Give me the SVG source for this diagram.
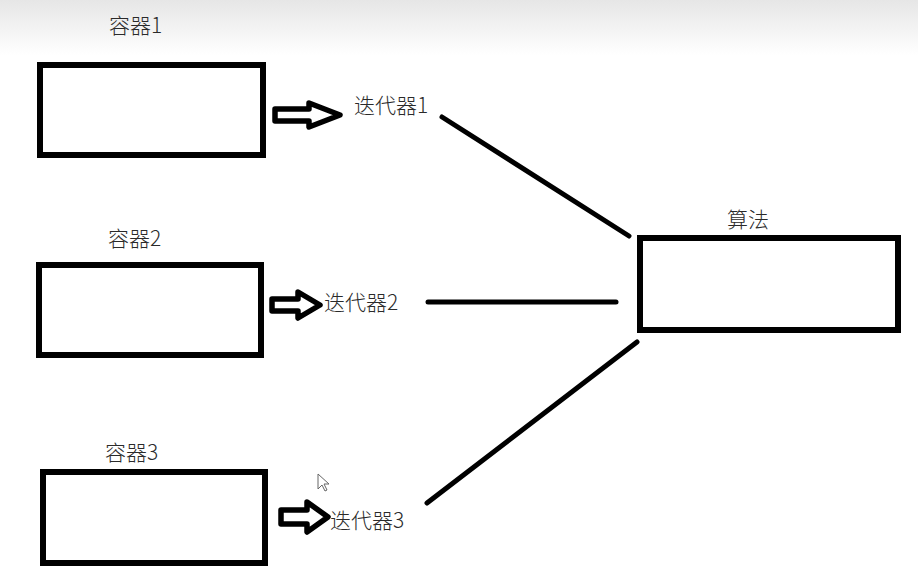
<svg xmlns="http://www.w3.org/2000/svg" width="918" height="584" viewBox="0 0 918 584">
<defs>
<linearGradient id="bg" x1="0" y1="0" x2="0" y2="1">
<stop offset="0" stop-color="#e6e6e6"/>
<stop offset="1" stop-color="#ffffff"/>
</linearGradient>
<style>
.box{fill:#fff;stroke:#000;stroke-width:6}
.lbl{font-family:"Microsoft YaHei","Noto Sans CJK SC",sans-serif;font-size:21px;font-weight:300;fill:#2a2a2a}
.arr{fill:#fff;stroke:#000;stroke-width:5.5;stroke-linejoin:round}
.conn{stroke:#000;stroke-width:5;stroke-linecap:round;fill:none}
</style>
</defs>
<rect x="0" y="0" width="918" height="584" fill="#fff"/>
<rect x="0" y="0" width="918" height="55" fill="url(#bg)"/>

<g id="container1">
<rect class="box" x="40" y="65" width="223" height="90"/>
<text class="lbl" x="109" y="33">容器1</text>
</g>
<g id="container2">
<rect class="box" x="39" y="265" width="222" height="90"/>
<text class="lbl" x="108" y="246">容器2</text>
</g>
<g id="container3">
<rect class="box" x="43" y="472" width="222" height="91"/>
<text class="lbl" x="105" y="460">容器3</text>
</g>
<g id="iter1">
<path class="arr" d="M275 109 H309 V103 L340 115 L309 127 V121 H275 Z"/>
<text class="lbl" x="354" y="113">迭代器1</text>
</g>
<g id="iter2">
<path class="arr" d="M272 299 H298 V292 L320 305 L298 318 V311 H272 Z"/>
<text class="lbl" x="324" y="310">迭代器2</text>
</g>
<g id="iter3">
<path class="arr" d="M281 510 H307 V502 L328 517 L307 532 V524 H281 Z"/>
<text class="lbl" x="330" y="528">迭代器3</text>
</g>
<g id="algorithm">
<rect class="box" x="640" y="238" width="258" height="92"/>
<text class="lbl" x="727" y="227">算法</text>
</g>
<g id="connectors">
<line class="conn" x1="442" y1="117" x2="629" y2="236"/>
<line class="conn" x1="428" y1="302" x2="616" y2="302"/>
<line class="conn" x1="427" y1="503" x2="637" y2="342"/>
</g>
<path d="M318 474 L318 489 L322 485 L325 491 L327 490 L324 484 L329 484 Z" fill="#fff" stroke="#666" stroke-width="1"/>
</svg>
